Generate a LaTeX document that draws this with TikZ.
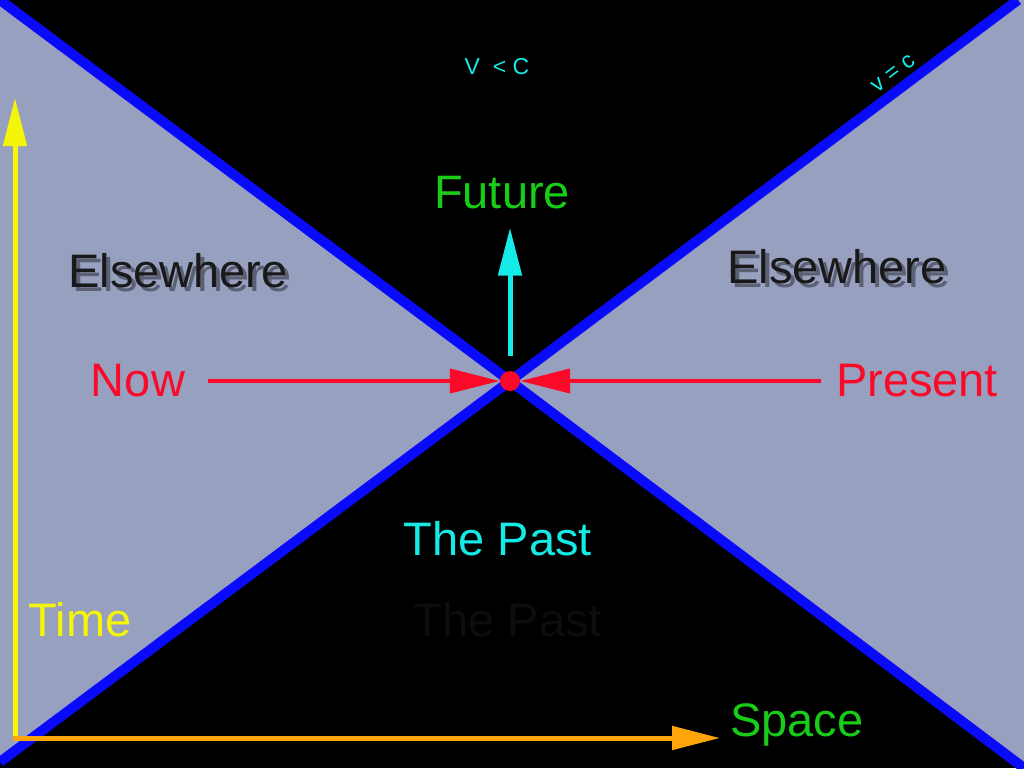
\documentclass[tikz,border=0pt]{standalone}
\usepackage{fontspec}
\setmainfont{Liberation Sans}
\usetikzlibrary{arrows.meta}

\definecolor{grigioaltrove}{RGB}{152,160,192}
\definecolor{blucono}{RGB}{10,10,250}
\definecolor{verdetesto}{RGB}{24,204,24}
\definecolor{ciano}{RGB}{20,235,230}
\definecolor{rosso}{RGB}{250,10,40}
\definecolor{giallo}{RGB}{245,245,10}
\definecolor{arancio}{RGB}{255,165,10}
\definecolor{ombratesto}{RGB}{13,13,13}

\begin{document}
\begin{tikzpicture}[
  x=1pt, y=-1pt,
  cono/.style={draw=blucono, line width=10pt},
  etichetta/.style={inner sep=0pt, anchor=base, font=\fontsize{47}{50}\selectfont},
  piccola/.style={inner sep=0pt, font=\fontsize{23}{26}\selectfont, text=ciano},
  freccia/.style={line width=5pt, -{Triangle[length=48pt,width=23pt]}},
  frecciarossa/.style={draw=rosso, line width=4pt, -{Triangle[length=50pt,width=24pt]}}
]

%--------------------------------------------------------------
% Cornice e sfondo
%--------------------------------------------------------------
\useasboundingbox (0,0) rectangle (1024,768);
\clip (0,0) rectangle (1024,768);
\fill[black] (0,0) rectangle (1024,768);
\coordinate (centro) at (510,381);

%--------------------------------------------------------------
% Regioni "altrove" (fuori dal cono di luce)
%--------------------------------------------------------------
\fill[grigioaltrove] (centro) -- (0,0) -- (0,762) -- cycle;
\fill[grigioaltrove] (centro) -- (1018,0) -- (1024,0) -- (1024,768) -- cycle;

%--------------------------------------------------------------
% Cono di luce: v = c
%--------------------------------------------------------------
\draw[cono] (0,0) -- (centro) -- (1024,768);
\draw[cono] (0,762) -- (centro) -- (1018,0);
\node[piccola] (vminc) at (497,67) {V\ \ <\ C};
\node[piccola, rotate=37] (vugc) at (893,74) {v = c};

%--------------------------------------------------------------
% Assi: tempo e spazio
%--------------------------------------------------------------
\coordinate (origine) at (15,738);
\coordinate (tempocima) at (15,98);
\coordinate (spaziopunta) at (720,738);
\draw[freccia, draw=giallo] (origine) -- (tempocima);
\draw[freccia, draw=arancio] ([xshift=-2.5pt]origine) -- (spaziopunta);
\node[etichetta, text=giallo] (tempo) at (80,636) {Time};
\node[etichetta, text=verdetesto] (spazio) at (797,736) {Space};

%--------------------------------------------------------------
% Futuro e passato
%--------------------------------------------------------------
\node[etichetta, text=verdetesto] (futuro) at (502,208) {Future};
\coordinate (futurobase) at (510,356);
\draw[freccia, draw=ciano, shorten >=19pt] (futurobase) -- (futuro.south -| futurobase);
\node[etichetta, text=ciano] (passato) at (498,555) {The Past};
\node[etichetta, text=ombratesto] (passatoombra) at (508,636) {The Past};

%--------------------------------------------------------------
% Altrove, con ombra
%--------------------------------------------------------------
\node[etichetta, text=black, opacity=0.4] (ombraL) at (182,291) {Elsewhere};
\node[etichetta, text=black, opacity=0.4] (ombraR) at (841,287) {Elsewhere};
\node[etichetta, text=black!90!white] (altroveL) at (178,287) {Elsewhere};
\node[etichetta, text=black!90!white] (altroveR) at (837,283) {Elsewhere};

%--------------------------------------------------------------
% Evento presente: ora
%--------------------------------------------------------------
\node[circle, fill=rosso, inner sep=0pt, minimum size=20pt] (evento) at (centro) {};
\node[etichetta, text=rosso] (ora) at (138,396) {Now};
\node[etichetta, text=rosso] (presente) at (917,396) {Present};
\draw[frecciarossa, shorten <=23pt] (ora.east |- evento) -- (evento.west);
\draw[frecciarossa, shorten <=15pt] (presente.west |- evento) -- (evento.east);

\end{tikzpicture}
\end{document}
